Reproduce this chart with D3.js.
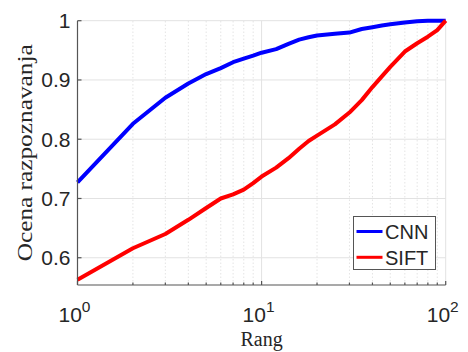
<!DOCTYPE html>
<html><head><meta charset="utf-8">
<script src="https://cdn.jsdelivr.net/npm/d3@7"></script>
<style>body{margin:0;background:#fff}svg{display:block}</style>
</head><body>
<script>
const ranks = [1,2,3,4,5,6,7,8,9,10,12,14,16,18,20,25,30,35,40,45,50,60,70,80,90,100];
const cnn  = [0.727,0.826,0.870,0.894,0.910,0.920,0.930,0.936,0.941,0.946,0.952,0.961,0.968,0.972,0.975,0.978,0.980,0.986,0.989,0.992,0.994,0.997,0.999,1.0,1.0,1.0];
const sift = [0.563,0.616,0.640,0.664,0.684,0.700,0.707,0.715,0.726,0.737,0.752,0.768,0.784,0.797,0.806,0.825,0.845,0.866,0.888,0.906,0.922,0.948,0.962,0.973,0.984,1.0];
const seriesNames = ["CNN","SIFT"];
const seriesColors = ["#0000ff","#ff0000"];
const yTicks = [0.6,0.7,0.8,0.9,1];
const xMajor = [1,10,100];
const xExp = ["0","1","2"];
const xLabel = "Rang", yLabel = "Ocena razpoznavanja";

const W=468,H=352;
const m={l:77.5,r:468-445.7,t:20.7,b:352-285};
const svg=d3.select("body").append("svg").attr("width",W).attr("height",H);
const x=d3.scaleLog().domain([1,100]).range([m.l,W-m.r]);
const y=d3.scaleLinear().domain([0.554,1]).range([H-m.b,m.t]);
const minor=[];
for(const d of [1,10]) for(let k=2;k<=9;k++) minor.push(d*k);

const g=svg.append("g");
g.selectAll(".mg").data(minor).join("line")
 .attr("x1",d=>x(d)).attr("x2",d=>x(d)).attr("y1",y(0.554)).attr("y2",y(1))
 .attr("stroke","#e4e4e4").attr("stroke-width",1).attr("stroke-dasharray","1.5,2");
g.selectAll(".xg").data(xMajor.slice(1)).join("line")
 .attr("x1",d=>x(d)).attr("x2",d=>x(d)).attr("y1",y(0.554)).attr("y2",y(1))
 .attr("stroke","#e2e2e2").attr("stroke-width",1);
g.selectAll(".yg").data(yTicks).join("line")
 .attr("x1",x(1)).attr("x2",x(100)).attr("y1",d=>y(d)).attr("y2",d=>y(d))
 .attr("stroke","#e2e2e2").attr("stroke-width",1);

const line=d3.line().x((d,i)=>x(ranks[i])).y(d=>y(d));
[cnn,sift].forEach((s,i)=>{
  svg.append("path").datum(s).attr("d",line).attr("fill","none")
   .attr("stroke",seriesColors[i]).attr("stroke-width",4).attr("stroke-linejoin","round");
});

const ax=svg.append("g").attr("stroke","#555").attr("stroke-width",1.2);
ax.append("line").attr("x1",x(1)).attr("x2",x(1)).attr("y1",y(0.554)).attr("y2",y(1));
ax.append("line").attr("x1",x(1)).attr("x2",x(100)).attr("y1",y(0.554)).attr("y2",y(0.554));
ax.selectAll(".yt").data(yTicks).join("line")
 .attr("x1",x(1)).attr("x2",x(1)+4).attr("y1",d=>y(d)).attr("y2",d=>y(d));
ax.selectAll(".xt").data(xMajor).join("line")
 .attr("x1",d=>x(d)).attr("x2",d=>x(d)).attr("y1",y(0.554)).attr("y2",y(0.554)-4);
ax.selectAll(".xm").data(minor.filter(d=>d>1)).join("line")
 .attr("x1",d=>x(d)).attr("x2",d=>x(d)).attr("y1",y(0.554)).attr("y2",y(0.554)-2.5);

const sans="Arial, 'Liberation Sans', Helvetica, sans-serif";
svg.selectAll(".yl").data(yTicks).join("text")
 .attr("x",x(1)-7).attr("y",d=>y(d)+7.5).attr("text-anchor","end")
 .attr("font-family",sans).attr("font-size",21).attr("fill","#262626")
 .text(d=>d===1?"1":d.toFixed(1));
const xl=svg.selectAll(".xl").data(xMajor).join("text")
 .attr("x",d=>x(d)-3).attr("y",321.5).attr("text-anchor","middle")
 .attr("font-family",sans).attr("font-size",21).attr("fill","#262626");
xl.append("tspan").text("10");
xl.append("tspan").attr("dy",-10).attr("font-size",15.5).text((d,i)=>xExp[i]);

const serif="'Liberation Serif','DejaVu Serif',serif";
svg.append("text").attr("x",(x(1)+x(100))/2).attr("y",346).attr("text-anchor","middle")
 .attr("font-family",serif).attr("font-size",20).attr("fill","#262626").text(xLabel);
svg.append("text").attr("transform",`translate(32,${(y(0.554)+y(1))/2}) rotate(-90)`)
 .attr("text-anchor","middle").attr("font-family",serif).attr("font-size",21)
 .attr("textLength",217).attr("lengthAdjust","spacingAndGlyphs")
 .attr("fill","#262626").text(yLabel);

const lg=svg.append("g");
lg.append("rect").attr("x",353.5).attr("y",216.5).attr("width",82).attr("height",53)
 .attr("fill","#fff").attr("stroke","#555").attr("stroke-width",1);
seriesNames.forEach((n,i)=>{
  const yy=231.5+i*25.8;
  lg.append("line").attr("x1",356.5).attr("x2",382.5).attr("y1",yy).attr("y2",yy)
   .attr("stroke",seriesColors[i]).attr("stroke-width",3);
  lg.append("text").attr("x",385).attr("y",yy+7.5).attr("font-family",sans)
   .attr("font-size",20).attr("fill","#262626").text(n);
});
</script>
</body></html>
